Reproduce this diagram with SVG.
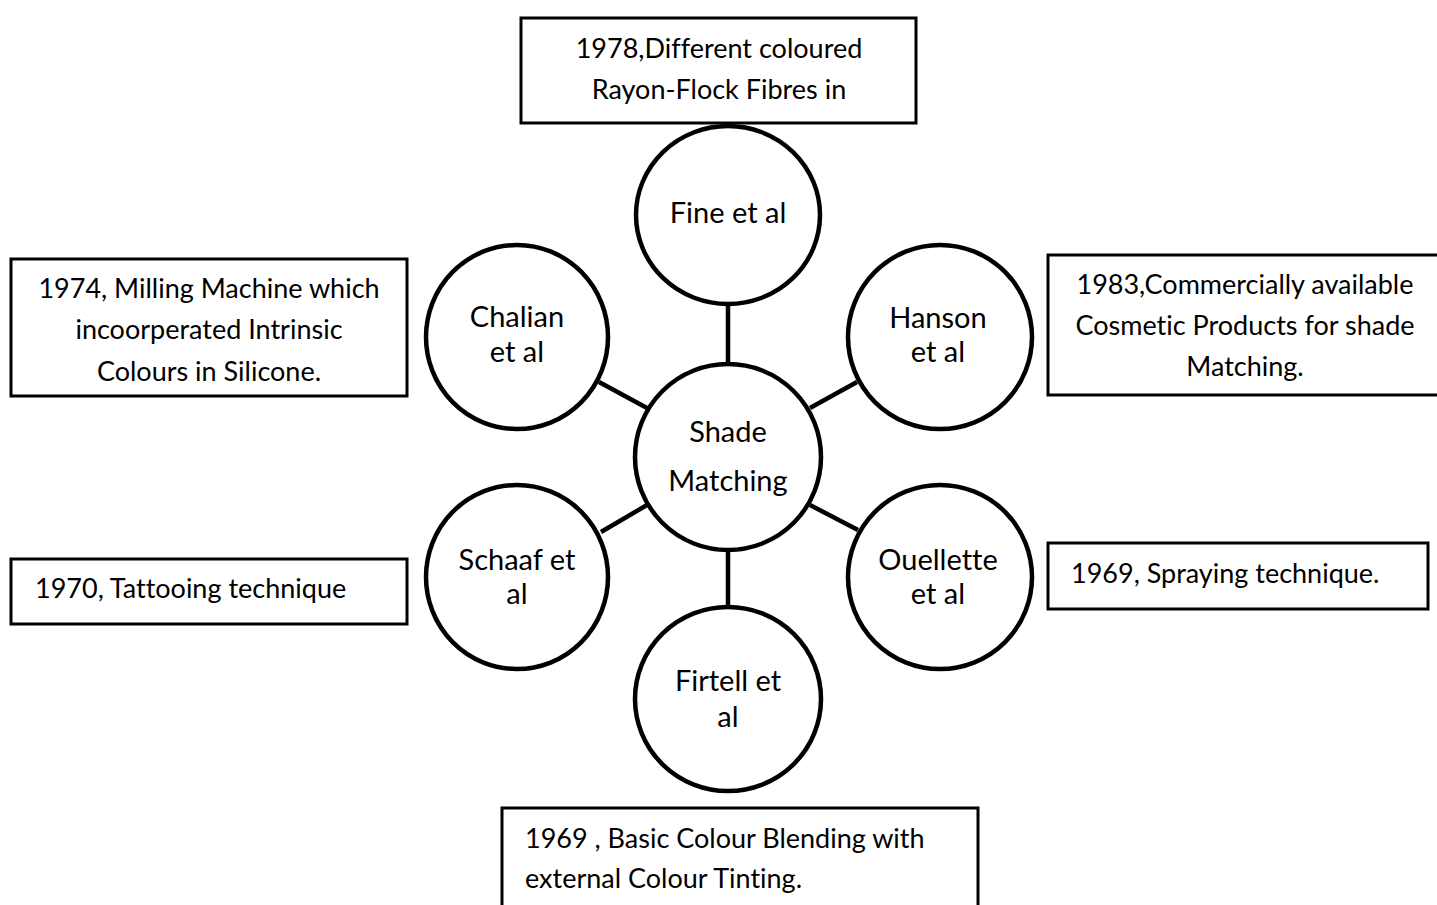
<svg xmlns="http://www.w3.org/2000/svg" width="1437" height="905" viewBox="0 0 1437 905">
<style>
.box{fill:#fff;stroke:#000;stroke-width:3}
.node{fill:#fff;stroke:#000;stroke-width:4.5}
.conn{stroke:#000;stroke-width:4.5;fill:none}
.bt{font-family:Lato,"Liberation Sans",sans-serif;font-size:27px;fill:#000;font-variant-ligatures:none}
.ct{font-family:Lato,"Liberation Sans",sans-serif;font-size:29px;fill:#000;text-anchor:middle;font-variant-ligatures:none}
.mid{text-anchor:middle}
</style>
<rect width="1437" height="905" fill="#fff"/>
<g id="connectors">
<line class="conn" x1="728" y1="305" x2="728" y2="363"/>
<line class="conn" x1="728" y1="551" x2="728" y2="607"/>
<line class="conn" x1="599" y1="382" x2="647" y2="408"/>
<line class="conn" x1="810" y1="408" x2="857" y2="382"/>
<line class="conn" x1="601" y1="532" x2="647" y2="505"/>
<line class="conn" x1="810" y1="505" x2="858" y2="530"/>
</g>
<g id="box-1978">
<rect class="box" x="521" y="18" width="395" height="105"/>
<text class="bt mid" x="719" y="58">1978,Different coloured</text>
<text class="bt mid" x="719" y="99">Rayon-Flock Fibres in</text>
</g>
<g id="box-1974">
<rect class="box" x="11" y="259" width="396" height="137"/>
<text class="bt mid" x="209" y="298">1974, Milling Machine which</text>
<text class="bt mid" x="209" y="339">incoorperated Intrinsic</text>
<text class="bt mid" x="209" y="381">Colours in Silicone.</text>
</g>
<g id="box-1983">
<rect class="box" x="1048" y="255" width="395" height="140"/>
<text class="bt mid" x="1245" y="294">1983,Commercially available</text>
<text class="bt mid" x="1245" y="335">Cosmetic Products for shade</text>
<text class="bt mid" x="1245" y="376">Matching.</text>
</g>
<g id="box-1970">
<rect class="box" x="11" y="559" width="396" height="65"/>
<text class="bt" x="35" y="598">1970, Tattooing technique</text>
</g>
<g id="box-1969-spraying">
<rect class="box" x="1048" y="543" width="380" height="66"/>
<text class="bt" x="1071" y="583">1969, Spraying technique.</text>
</g>
<g id="box-1969-blending">
<rect class="box" x="502" y="808" width="476" height="110"/>
<text class="bt" x="525" y="848">1969 , Basic Colour Blending with</text>
<text class="bt" x="525" y="888">external Colour Tinting.</text>
</g>
<g id="node-fine">
<ellipse class="node" cx="728" cy="215" rx="92" ry="89"/>
<text class="ct" x="728" y="223">Fine et al</text>
</g>
<g id="node-center">
<ellipse class="node" cx="728" cy="457" rx="93" ry="93"/>
<text class="ct" x="728" y="442">Shade</text>
<text class="ct" x="728" y="491">Matching</text>
</g>
<g id="node-chalian">
<ellipse class="node" cx="517" cy="337" rx="91" ry="92"/>
<text class="ct" x="517" y="327">Chalian</text>
<text class="ct" x="517" y="362">et al</text>
</g>
<g id="node-hanson">
<ellipse class="node" cx="940" cy="337" rx="92" ry="92"/>
<text class="ct" x="938" y="328">Hanson</text>
<text class="ct" x="938" y="362">et al</text>
</g>
<g id="node-schaaf">
<ellipse class="node" cx="517" cy="577" rx="91" ry="92"/>
<text class="ct" x="517" y="570">Schaaf et</text>
<text class="ct" x="517" y="604">al</text>
</g>
<g id="node-ouellette">
<ellipse class="node" cx="940" cy="577" rx="92" ry="92"/>
<text class="ct" x="938" y="570">Ouellette</text>
<text class="ct" x="938" y="604">et al</text>
</g>
<g id="node-firtell">
<ellipse class="node" cx="728" cy="699" rx="93" ry="92"/>
<text class="ct" x="728" y="691">Firtell et</text>
<text class="ct" x="728" y="727">al</text>
</g>
</svg>
